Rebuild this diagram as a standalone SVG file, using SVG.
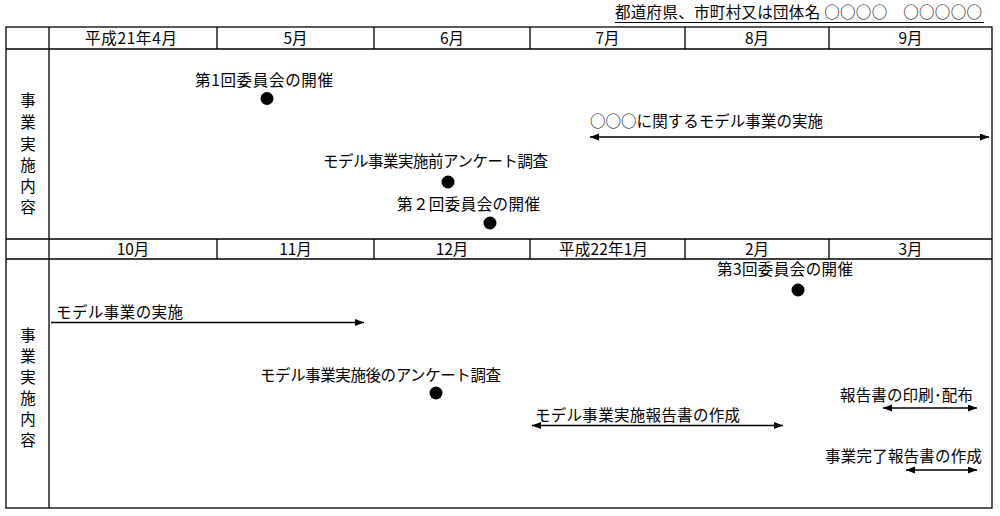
<svg xmlns="http://www.w3.org/2000/svg" width="1000" height="516" viewBox="0 0 1000 516">
<style>
text{font-family:"Noto Sans CJK JP","Noto Sans",sans-serif;font-size:15.5px;fill:#000}
.h{font-size:15.5px;text-anchor:middle}
.v{font-size:15.5px;text-anchor:middle}
.grid{stroke:#000;stroke-width:1.3;fill:none}
.arr{stroke:#000;stroke-width:1.3;fill:none}
.dot{fill:#000}
</style>
<defs>
<marker id="ah" markerUnits="userSpaceOnUse" markerWidth="10" markerHeight="8" refX="9" refY="3.5" orient="auto-start-reverse">
<path d="M0,0 L9,3.5 L0,7 z" fill="#000"/>
</marker>
</defs>
<g id="title">
<text x="615" y="18" textLength="367" lengthAdjust="spacing">都道府県、市町村又は団体名 ○○○○　○○○○○</text>
<line x1="615" y1="22.5" x2="984" y2="22.5" stroke="#000" stroke-width="1.2"/>
</g>
<g id="table" class="grid">
<rect x="6" y="27" width="986" height="481"/>
<line x1="6" y1="49" x2="992" y2="49"/>
<line x1="6" y1="239" x2="992" y2="239"/>
<line x1="6" y1="259" x2="992" y2="259"/>
<line x1="49" y1="27" x2="49" y2="508"/>
<path d="M217,27V49M374,27V49M530,27V49M685,27V49M829,27V49"/>
<path d="M217,239V259M374,239V259M530,239V259M685,239V259M829,239V259"/>
</g>
<g id="header1">
<text class="h" x="131" y="44" textLength="92" lengthAdjust="spacing">平成21年4月</text>
<text class="h" x="295.5" y="44">5月</text>
<text class="h" x="452" y="44">6月</text>
<text class="h" x="607.5" y="44">7月</text>
<text class="h" x="757" y="44">8月</text>
<text class="h" x="910.5" y="44">9月</text>
</g>
<g id="header2">
<text class="h" x="133" y="255">10月</text>
<text class="h" x="295.5" y="255">11月</text>
<text class="h" x="452" y="255">12月</text>
<text class="h" x="603.5" y="255" textLength="89" lengthAdjust="spacing">平成22年1月</text>
<text class="h" x="757" y="255">2月</text>
<text class="h" x="910.5" y="255">3月</text>
</g>
<g id="label1">
<text class="v" x="28" y="106">事</text>
<text class="v" x="28" y="128">業</text>
<text class="v" x="28" y="150">実</text>
<text class="v" x="28" y="171">施</text>
<text class="v" x="28" y="192">内</text>
<text class="v" x="28" y="213">容</text>
</g>
<g id="label2">
<text class="v" x="28" y="341">事</text>
<text class="v" x="28" y="362">業</text>
<text class="v" x="28" y="383">実</text>
<text class="v" x="28" y="404">施</text>
<text class="v" x="28" y="425">内</text>
<text class="v" x="28" y="446">容</text>
</g>
<g id="ev1">
<text x="195" y="86" textLength="138" lengthAdjust="spacing">第1回委員会の開催</text>
<circle class="dot" cx="267" cy="98.5" r="6.5"/>
</g>
<g id="ev2">
<text x="323" y="167" textLength="225" lengthAdjust="spacing">モデル事業実施前アンケート調査</text>
<circle class="dot" cx="448" cy="182" r="6.5"/>
</g>
<g id="ev3">
<text x="397" y="210" textLength="143" lengthAdjust="spacing">第２回委員会の開催</text>
<circle class="dot" cx="490" cy="223" r="6.5"/>
</g>
<g id="ev4">
<text x="590" y="127" textLength="233" lengthAdjust="spacing">○○○に関するモデル事業の実施</text>
</g>
<g id="ev5">
<text x="717" y="275" textLength="136" lengthAdjust="spacing">第3回委員会の開催</text>
<circle class="dot" cx="798" cy="290" r="6.5"/>
</g>
<g id="ev6">
<text x="56" y="318" textLength="127" lengthAdjust="spacing">モデル事業の実施</text>
</g>
<g id="ev7">
<text x="260" y="381" textLength="241" lengthAdjust="spacing">モデル事業実施後のアンケート調査</text>
<circle class="dot" cx="436" cy="393" r="6.5"/>
</g>
<g id="ev8">
<text x="535" y="421" textLength="205" lengthAdjust="spacing">モデル事業実施報告書の作成</text>
</g>
<g id="ev9">
<text x="840" y="401" textLength="133" lengthAdjust="spacing">報告書の印刷･配布</text>
</g>
<g id="ev10">
<text x="825" y="462" textLength="157" lengthAdjust="spacing">事業完了報告書の作成</text>
</g>
<g id="connectors" class="arr">
<line x1="590" y1="137" x2="989" y2="137" marker-start="url(#ah)" marker-end="url(#ah)"/>
<line x1="51" y1="322.5" x2="364" y2="322.5" marker-end="url(#ah)"/>
<line x1="532" y1="425.5" x2="783" y2="425.5" marker-start="url(#ah)" marker-end="url(#ah)"/>
<line x1="883" y1="408" x2="977" y2="408" marker-start="url(#ah)" marker-end="url(#ah)"/>
<line x1="906" y1="470" x2="977" y2="470" marker-start="url(#ah)" marker-end="url(#ah)"/>
</g>
</svg>
